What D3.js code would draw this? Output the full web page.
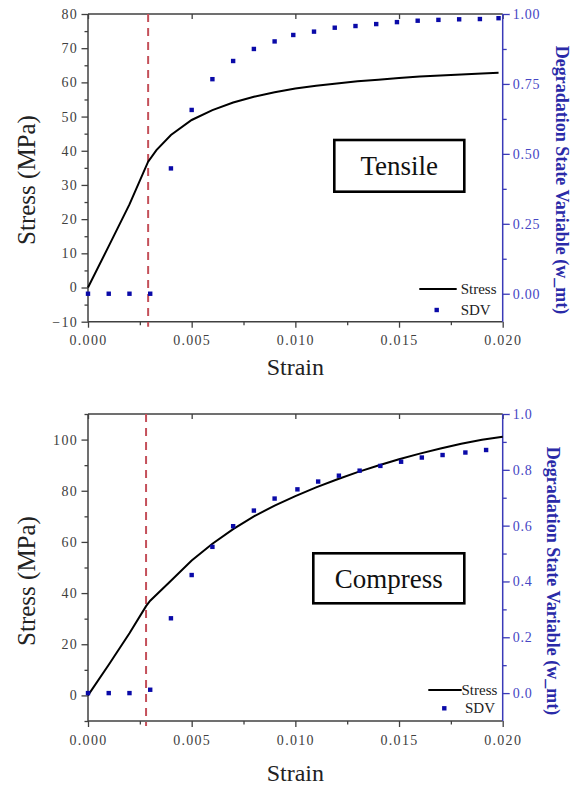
<!DOCTYPE html>
<html><head><meta charset="utf-8">
<script src="https://cdn.jsdelivr.net/npm/d3@7"></script>
<style>body{margin:0;background:#fff}svg{display:block}</style>
</head><body>
<svg id="chart" width="580" height="787"></svg>
<script>
// ---------- data ----------
const xTickValues = [0, 0.005, 0.010, 0.015, 0.020];
const xMinorTicks = [0.0025, 0.0075, 0.0125, 0.0175];

const tensileStrain = [0, 0.001, 0.002, 0.0029, 0.0033, 0.004, 0.005, 0.006, 0.007, 0.008, 0.009, 0.010, 0.011, 0.012, 0.013, 0.014, 0.015, 0.016, 0.017, 0.018, 0.019, 0.0198];
const tensileStress = [0, 12.1, 24.3, 36.8, 40.2, 44.6, 49.0, 51.9, 54.1, 55.8, 57.1, 58.2, 59.0, 59.7, 60.3, 60.8, 61.3, 61.7, 62.0, 62.3, 62.6, 62.8];
const tensileSdvStrain = [0, 0.001, 0.002, 0.003, 0.004, 0.005, 0.006, 0.007, 0.008, 0.009, 0.0099, 0.0109, 0.0119, 0.0129, 0.0139, 0.0149, 0.0159, 0.0169, 0.0179, 0.0189, 0.0198];
const tensileSdv = [0, 0, 0, 0, 0.448, 0.657, 0.767, 0.832, 0.875, 0.902, 0.925, 0.937, 0.951, 0.957, 0.964, 0.971, 0.976, 0.979, 0.981, 0.982, 0.985];

const compressStrain = [0, 0.001, 0.002, 0.0028, 0.003, 0.004, 0.005, 0.006, 0.007, 0.008, 0.009, 0.010, 0.011, 0.012, 0.013, 0.014, 0.015, 0.016, 0.017, 0.018, 0.019, 0.020];
const compressStress = [0, 12.0, 24.3, 34.9, 37.0, 44.8, 52.7, 59.3, 65.0, 70.0, 74.2, 77.9, 81.3, 84.4, 87.3, 89.9, 92.3, 94.5, 96.5, 98.4, 99.9, 101.1];
const compressSdvStrain = [0, 0.001, 0.002, 0.003, 0.004, 0.005, 0.006, 0.007, 0.008, 0.009, 0.0101, 0.0111, 0.0121, 0.0131, 0.0141, 0.0151, 0.0161, 0.0171, 0.0182, 0.0192];
const compressSdv = [0, 0, 0, 0.012, 0.268, 0.423, 0.524, 0.598, 0.654, 0.697, 0.730, 0.758, 0.779, 0.797, 0.814, 0.829, 0.844, 0.853, 0.862, 0.871];

const tensileYTicks = [-10, 0, 10, 20, 30, 40, 50, 60, 70, 80];
const tensileYMinor = [-5, 5, 15, 25, 35, 45, 55, 65, 75];
const tensileRTicks = [0, 0.25, 0.5, 0.75, 1.0];
const tensileRMinor = [0.125, 0.375, 0.625, 0.875];
const compressYTicks = [0, 20, 40, 60, 80, 100];
const compressYMinor = [-10, 10, 30, 50, 70, 90, 110];
const compressRTicks = [0, 0.2, 0.4, 0.6, 0.8, 1.0];
const compressRMinor = [0.1, 0.3, 0.5, 0.7, 0.9];

const tensileOnset = 0.0029;
const compressOnset = 0.0028;
const legendLabels = ["Stress", "SDV"];

// ---------- drawing ----------
const svg = d3.select("#chart");
const SERIF = "'Liberation Serif','Times New Roman',serif";
const AX = "#404040", BLUE_AX = "#3a3ab8", BLUE_TXT = "#4646c4", BLUE_TITLE = "#2a2aa8", PT = "#0a0aa8", RED = "#c4505a";

function panel(o) {
  const g = svg.append("g");
  const x = d3.scaleLinear().domain([0, 0.02]).range([o.left, o.right]);
  const y = d3.scaleLinear().domain(o.yDomain).range([o.bottom, o.top]);
  const r = d3.scaleLinear().domain([-0.1, 1.0]).range([o.bottom, o.top]);

  const style = (sel, col) => {
    sel.select(".domain").remove();
    sel.selectAll("line").attr("stroke", col).attr("stroke-width", 1.3);
    sel.selectAll("text").attr("fill", col).style("font-family", SERIF).style("font-size", "14px").style("letter-spacing", "1.3px");
  };

  // bottom axis
  const bx = g.append("g").attr("transform", `translate(0,${o.bottom})`)
    .call(d3.axisBottom(x).tickValues(xTickValues).tickSize(6).tickFormat(d3.format(".3f")));
  style(bx, AX);
  bx.selectAll("text").attr("y", 23.5).attr("dy", null);
  const bxm = g.append("g").attr("transform", `translate(0,${o.bottom})`)
    .call(d3.axisBottom(x).tickValues(xMinorTicks).tickSize(3.5).tickFormat(""));
  style(bxm, AX);
  // top axis ticks (inward)
  const tx = g.append("g").attr("transform", `translate(0,${o.top})`)
    .call(d3.axisTop(x).tickValues(xTickValues).tickSize(-5).tickFormat(""));
  style(tx, AX);

  // left axis
  const ly = g.append("g").attr("transform", `translate(${o.left},0)`)
    .call(d3.axisLeft(y).tickValues(o.yTicks).tickSize(6.5).tickFormat(d3.format("d")));
  style(ly, AX);
  ly.selectAll("text").attr("x", -10);
  const lym = g.append("g").attr("transform", `translate(${o.left},0)`)
    .call(d3.axisLeft(y).tickValues(o.yMinor).tickSize(3.5).tickFormat(""));
  style(lym, AX);

  // right axis
  const ry = g.append("g").attr("transform", `translate(${o.right},0)`)
    .call(d3.axisRight(r).tickValues(o.rTicks).tickSize(7).tickFormat(d3.format(o.rFmt)));
  style(ry, BLUE_AX);
  ry.selectAll("text").attr("x", 10).attr("fill", BLUE_TXT).style("letter-spacing", "0.8px");
  const rym = g.append("g").attr("transform", `translate(${o.right},0)`)
    .call(d3.axisRight(r).tickValues(o.rMinor).tickSize(4).tickFormat(""));
  style(rym, BLUE_AX);

  // frame
  g.append("line").attr("x1", o.left).attr("x2", o.right).attr("y1", o.top).attr("y2", o.top).attr("stroke", AX).attr("stroke-width", 1.5);
  g.append("line").attr("x1", o.left).attr("x2", o.right).attr("y1", o.bottom).attr("y2", o.bottom).attr("stroke", AX).attr("stroke-width", 1.5);
  g.append("line").attr("x1", o.left).attr("x2", o.left).attr("y1", o.top).attr("y2", o.bottom).attr("stroke", AX).attr("stroke-width", 1.5);
  g.append("line").attr("x1", o.right).attr("x2", o.right).attr("y1", o.top).attr("y2", o.bottom).attr("stroke", BLUE_AX).attr("stroke-width", 1.5);

  // onset dashed line
  g.append("line").attr("x1", x(o.onset)).attr("x2", x(o.onset)).attr("y1", o.top).attr("y2", o.bottom + 5)
    .attr("stroke", RED).attr("stroke-width", 2).attr("stroke-dasharray", "8,6");

  // stress curve
  const line = d3.line().x(d => x(d[0])).y(d => y(d[1]));
  g.append("path").datum(o.cx.map((v, i) => [v, o.cy[i]])).attr("d", line)
    .attr("fill", "none").attr("stroke", "#000").attr("stroke-width", 2);

  // SDV points
  g.selectAll(null).data(o.sx.map((v, i) => [v, o.sy[i]])).enter().append("rect")
    .attr("x", d => x(d[0]) - 2.2).attr("y", d => r(d[1]) - 2.2).attr("width", 4.4).attr("height", 4.4).attr("fill", PT);

  // titles
  g.append("text").attr("transform", `translate(${o.left + (o.right - o.left) / 2},${o.xTitleY})`)
    .attr("text-anchor", "middle").style("font-family", SERIF).style("font-size", "24px").attr("fill", "#222").text("Strain");
  g.append("text").attr("transform", `translate(35,${o.yTitleY}) rotate(-90)`)
    .attr("text-anchor", "middle").style("font-family", SERIF).style("font-size", "25px").attr("fill", "#222").text("Stress (MPa)");
  g.append("text").attr("transform", `translate(${o.rTitleX},${o.yTitleY}) rotate(90)`)
    .attr("text-anchor", "middle").style("font-family", SERIF).style("font-size", "18px").style("font-weight", "bold")
    .attr("fill", BLUE_TITLE).text("Degradation State Variable (w_mt)");

  // label box
  g.append("rect").attr("x", o.box[0]).attr("y", o.box[1]).attr("width", o.box[2]).attr("height", o.box[3])
    .attr("fill", "#fff").attr("stroke", "#000").attr("stroke-width", 2.6);
  g.append("text").attr("x", o.box[0] + o.box[2] / 2).attr("y", o.box[1] + o.box[3] / 2).attr("dy", "0.35em")
    .attr("text-anchor", "middle").style("font-family", SERIF).style("font-size", "27px").attr("fill", "#111").text(o.boxText);

  // legend
  const L = o.leg;
  g.append("line").attr("x1", L.lx1).attr("x2", L.lx2).attr("y1", L.ly).attr("y2", L.ly).attr("stroke", "#000").attr("stroke-width", 2);
  g.append("text").attr("x", L.tx1).attr("y", L.ly + 5).style("font-family", SERIF).style("font-size", "15px").attr("fill", "#222").text(legendLabels[0]);
  g.append("rect").attr("x", L.px - 2.2).attr("y", L.py - 2.2).attr("width", 4.4).attr("height", 4.4).attr("fill", PT);
  g.append("text").attr("x", L.tx2).attr("y", L.py + 5).style("font-family", SERIF).style("font-size", "15px").attr("fill", "#222").text(legendLabels[1]);
}

panel({
  top: 14, bottom: 321.7, left: 88, right: 502.7,
  yDomain: [-10, 80], yTicks: tensileYTicks, yMinor: tensileYMinor,
  rTicks: tensileRTicks, rMinor: tensileRMinor, rFmt: ".2f",
  cx: tensileStrain, cy: tensileStress, sx: tensileSdvStrain, sy: tensileSdv,
  onset: tensileOnset, xTitleY: 375, yTitleY: 180, rTitleX: 556,
  box: [334.3, 140, 130, 51.7], boxText: "Tensile",
  leg: { lx1: 419.3, lx2: 456.7, ly: 289, tx1: 460.7, px: 436.7, py: 310, tx2: 460.7 }
});
panel({
  top: 414, bottom: 721, left: 88, right: 502.7,
  yDomain: [-10, 110], yTicks: compressYTicks, yMinor: compressYMinor,
  rTicks: compressRTicks, rMinor: compressRMinor, rFmt: ".1f",
  cx: compressStrain, cy: compressStress, sx: compressSdvStrain, sy: compressSdv,
  onset: compressOnset, xTitleY: 781, yTitleY: 581, rTitleX: 547,
  box: [313.3, 553.3, 151, 50], boxText: "Compress",
  leg: { lx1: 428.3, lx2: 461.7, ly: 690, tx1: 461.5, px: 444.3, py: 708.3, tx2: 465 }
});
</script>
</body></html>
